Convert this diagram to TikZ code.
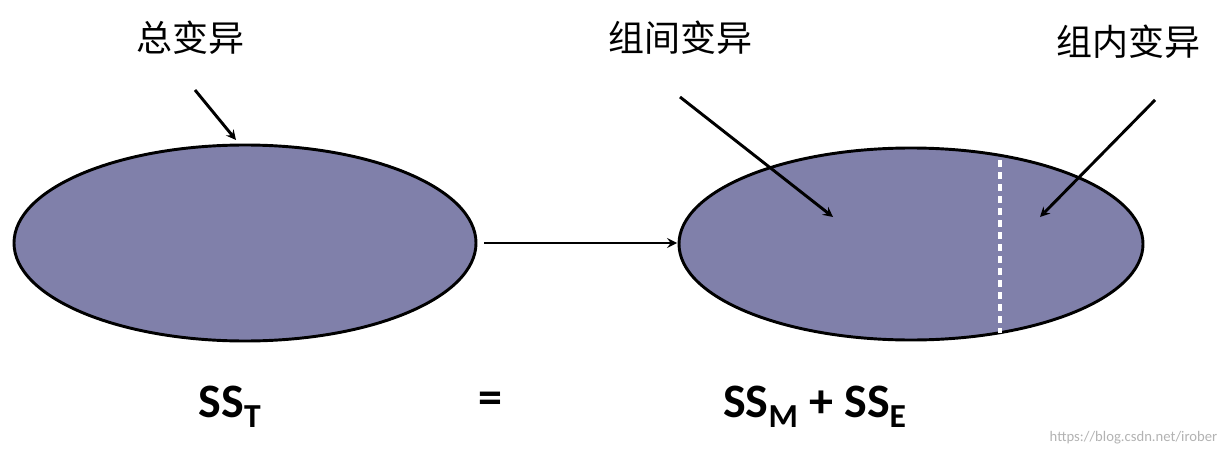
\documentclass[tikz,border=0pt]{standalone}
\usepackage{fontspec}
\setmainfont{Carlito}
\newfontfamily\cjk{Noto Sans CJK SC}
\definecolor{fillc}{RGB}{128,128,170}
\begin{document}
\begin{tikzpicture}[x=0.75pt,y=-0.75pt,
  ell/.style={draw=black,line width=2.2pt,fill=fillc},
  arr/.style={-stealth,line width=2.2pt},
  cn/.style={font=\cjk\fontsize{27}{30}\selectfont},
  ss/.style={font=\bfseries\fontsize{36}{40}\selectfont}]
\useasboundingbox (0,0) rectangle (1230,456);
\draw[ell] (245,243) ellipse [x radius=231, y radius=98];
\draw[ell] (911,244) ellipse [x radius=232, y radius=96];
\coordinate (lr) at (484,243);
\coordinate (rl) at (677,243);
\draw[arr] (lr) -- (rl);
\coordinate (d1) at (1000,160); \coordinate (d2) at (1000,333);
\draw[white,line width=3pt,dash pattern=on 5pt off 4pt] (d1) -- (d2);
\node[cn] (t1) at (190,38) {总变异};
\node[cn] (t2) at (680,38) {组间变异};
\node[cn] (t3) at (1128,42) {组内变异};
\coordinate (a1s) at (195,90); \coordinate (a1e) at (236,140);
\coordinate (a2s) at (680,97); \coordinate (a2e) at (833,217);
\coordinate (a3s) at (1155,100); \coordinate (a3e) at (1040,217);
\draw[arr] (a1s) -- (a1e);
\draw[arr] (a2s) -- (a2e);
\draw[arr] (a3s) -- (a3e);
\node[ss] (s1) at (230,407) {SS$_{\mathbf{T}}$};
\node[ss] (s2) at (490,403) {=};
\node[ss] (s3) at (815,407) {SS$_{\mathbf{M}}$ + SS$_{\mathbf{E}}$};
\node[text=gray!60,font=\fontsize{11}{12}\selectfont,anchor=east] (w) at (1222,438) {https://blog.csdn.net/irober};
\end{tikzpicture}
\end{document}
